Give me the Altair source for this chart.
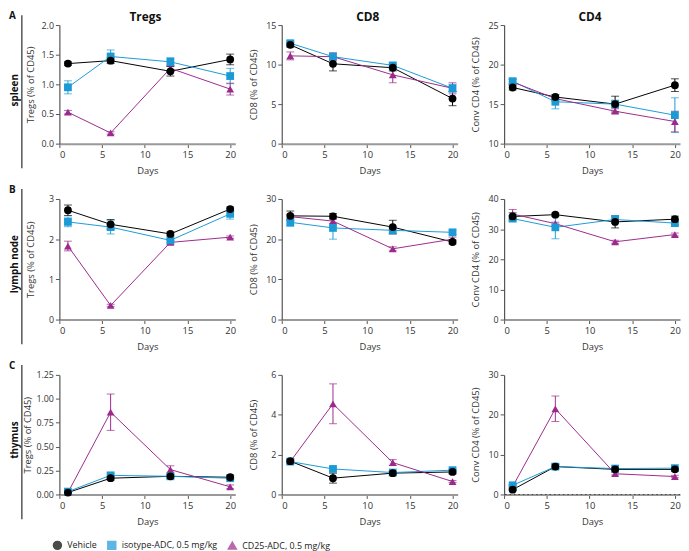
import altair as alt
import pandas as pd

FONT = "Open Sans"

days = [1, 6, 13, 20]
series = ["Vehicle", "isotype-ADC, 0.5 mg/kg", "CD25-ADC, 0.5 mg/kg"]
colors = ["#000000", "#1b9ad6", "#9c2a8c"]
shapes = ["circle", "square", "triangle-up"]

col_titles = ["Tregs", "CD8", "CD4"]
row_names = ["spleen", "lymph node", "thymus"]
row_letters = ["A", "B", "C"]
y_titles = ["Tregs (% of CD45)", "CD8 (% of CD45)", "Conv CD4 (% of CD45)"]
x_ticks = [0, 5, 10, 15, 20]

# each list: [Vehicle], [isotype-ADC], [CD25-ADC] over days 1, 6, 13, 20
spleen_tregs_mean = [[1.35, 1.40, 1.22, 1.42], [0.95, 1.47, 1.38, 1.14], [0.53, 0.18, 1.27, 0.92]]
spleen_tregs_err = [[0.03, 0.05, 0.08, 0.09], [0.11, 0.11, 0.07, 0.13], [0.03, 0.02, 0.05, 0.10]]
spleen_cd8_mean = [[12.5, 10.1, 9.6, 5.7], [12.7, 11.0, 9.9, 7.0], [11.1, 11.0, 8.7, 7.0]]
spleen_cd8_err = [[0.3, 0.9, 0.4, 0.9], [0.3, 0.3, 0.3, 0.5], [0.5, 0.5, 1.0, 0.7]]
spleen_cd4_mean = [[17.1, 15.9, 15.0, 17.4], [17.9, 15.3, 15.0, 13.6], [17.8, 15.7, 14.1, 12.8]]
spleen_cd4_err = [[0.3, 0.3, 1.0, 0.8], [0.3, 0.9, 0.5, 2.2], [0.3, 0.2, 0.3, 1.3]]

ln_tregs_mean = [[2.72, 2.37, 2.13, 2.75], [2.43, 2.30, 1.97, 2.63], [1.83, 0.35, 1.92, 2.05]]
ln_tregs_err = [[0.13, 0.12, 0.05, 0.05], [0.12, 0.17, 0.05, 0.13], [0.12, 0.03, 0.05, 0.03]]
ln_cd8_mean = [[25.8, 25.7, 23.0, 19.3], [24.2, 22.8, 22.2, 21.7], [25.6, 24.5, 17.6, 20.0]]
ln_cd8_err = [[1.2, 0.7, 1.7, 0.5], [1.0, 2.8, 0.8, 0.5], [0.6, 0.6, 0.5, 0.5]]
ln_cd4_mean = [[34.2, 34.8, 32.4, 33.3], [33.5, 30.6, 33.2, 32.0], [35.0, 31.8, 25.8, 28.2]]
ln_cd4_err = [[1.2, 0.5, 2.0, 1.0], [1.0, 3.8, 1.2, 0.5], [1.5, 0.5, 0.5, 0.5]]

thy_tregs_mean = [[0.02, 0.17, 0.19, 0.18], [0.03, 0.20, 0.19, 0.17], [0.02, 0.86, 0.26, 0.08]]
thy_tregs_err = [[0.01, 0.02, 0.02, 0.02], [0.01, 0.02, 0.01, 0.01], [0.01, 0.19, 0.04, 0.02]]
thy_cd8_mean = [[1.67, 0.82, 1.07, 1.13], [1.65, 1.28, 1.10, 1.22], [1.65, 4.55, 1.60, 0.65]]
thy_cd8_err = [[0.10, 0.25, 0.10, 0.10], [0.05, 0.10, 0.05, 0.05], [0.05, 1.00, 0.15, 0.05]]
thy_cd4_mean = [[1.2, 7.0, 6.3, 6.3], [2.3, 7.0, 6.5, 6.6], [2.0, 21.5, 5.2, 4.5]]
thy_cd4_err = [[0.2, 0.6, 0.3, 0.3], [0.2, 0.6, 0.3, 0.3], [0.2, 3.2, 0.3, 0.3]]

panels = [
    [(spleen_tregs_mean, spleen_tregs_err, [0, 2], [0, 0.5, 1, 1.5, 2], ".1f"),
     (spleen_cd8_mean, spleen_cd8_err, [0, 15], [0, 5, 10, 15], "d"),
     (spleen_cd4_mean, spleen_cd4_err, [10, 25], [10, 15, 20, 25], "d")],
    [(ln_tregs_mean, ln_tregs_err, [0, 3], [0, 1, 2, 3], "d"),
     (ln_cd8_mean, ln_cd8_err, [0, 30], [0, 10, 20, 30], "d"),
     (ln_cd4_mean, ln_cd4_err, [0, 40], [0, 10, 20, 30, 40], "d")],
    [(thy_tregs_mean, thy_tregs_err, [0, 1.25], [0, 0.25, 0.5, 0.75, 1, 1.25], ".2f"),
     (thy_cd8_mean, thy_cd8_err, [0, 6], [0, 2, 4, 6], "d"),
     (thy_cd4_mean, thy_cd4_err, [0, 30], [0, 10, 20, 30], "d")],
]

W = 178
row_heights = [120, 122, 121]

legend = alt.Legend(title=None, orient="none", legendX=-7, legendY=521,
                    direction="horizontal", labelFont=FONT, labelFontSize=9,
                    labelColor="#222", symbolSize=65, columnPadding=7,
                    labelOffset=5)
color_enc = alt.Color("series:N", scale=alt.Scale(domain=series, range=colors), legend=legend)
shape_enc = alt.Shape("series:N", scale=alt.Scale(domain=series, range=shapes), legend=legend)


def make_panel(r, c):
    mean, err, dom, ticks, fmt = panels[r][c]
    H = row_heights[r]
    recs = []
    for si, s in enumerate(series):
        for di, d in enumerate(days):
            m = mean[si][di]
            e = err[si][di]
            recs.append({"series": s, "day": d, "mean": m, "lo": m - e, "hi": m + e,
                         "order": [2, 1, 0][si]})
    df = pd.DataFrame(recs)
    xscale = alt.Scale(domain=[0, 20.6], nice=False, zero=False)
    xaxis = alt.Axis(values=x_ticks, title="Days", format="d", tickCount=5, labelOverlap=False)
    yscale = alt.Scale(domain=dom, nice=False, zero=False)
    title_x = -32 if fmt == ".2f" else -29
    yaxis = alt.Axis(values=ticks, format=fmt, title=y_titles[c], labelOverlap=False,
                     tickCount=len(ticks), titleX=title_x, titleBaseline="middle",
                     labelFontSize=9)

    def X():
        return alt.X("day:Q", scale=xscale, axis=xaxis)

    def Y(field):
        return alt.Y(field + ":Q", scale=yscale, axis=yaxis)

    base = alt.Chart(df)
    line = base.mark_line(strokeWidth=1).encode(x=X(), y=Y("mean"), color=color_enc)
    bars = base.mark_rule(strokeWidth=1).encode(x=X(), y=Y("lo"), y2="hi:Q", color=color_enc)
    cap_lo = base.mark_tick(orient="horizontal", size=8, thickness=1).encode(
        x=X(), y=Y("lo"), color=color_enc)
    cap_hi = base.mark_tick(orient="horizontal", size=8, thickness=1).encode(
        x=X(), y=Y("hi"), color=color_enc)
    pts = base.mark_point(filled=True, size=62, opacity=1).encode(
        x=X(), y=Y("mean"), color=color_enc, shape=shape_enc, order="order:Q")
    layers = [line, bars, cap_lo, cap_hi, pts]
    if r == 2 and c == 2:
        zero_df = pd.DataFrame({"v": [0]})
        layers.insert(0, alt.Chart(zero_df).mark_rule(color="#444", strokeDash=[1.5, 3], strokeWidth=1.2)
                      .encode(y=Y("v")))
    if r == 0:
        tdf = pd.DataFrame({"t": [col_titles[c]]})
        layers.append(alt.Chart(tdf).mark_text(align="center", baseline="middle", fontSize=12,
                                               fontWeight="bold", font=FONT, color="#111")
                      .encode(text="t:N", x=alt.value(W / 2 - 2), y=alt.value(-8)))
    if c == 0:
        lab = pd.DataFrame({"letter": [row_letters[r]], "name": [row_names[r]]})
        lbase = alt.Chart(lab)
        layers.append(lbase.mark_text(align="left", baseline="top", fontSize=10,
                                      fontWeight="bold", font=FONT, color="#111")
                      .encode(text="letter:N", x=alt.value(-51), y=alt.value(-14)))
        layers.append(lbase.mark_text(angle=270, align="center", baseline="middle", fontSize=10,
                                      fontWeight="bold", font=FONT, color="#111")
                      .encode(text="name:N", x=alt.value(-45), y=alt.value(66)))
        layers.append(lbase.mark_rule(color="#555", strokeWidth=1.5)
                      .encode(x=alt.value(-38), y=alt.value(-10), y2=alt.value(H + 25)))
    return alt.layer(*layers).properties(width=W, height=H)


charts = [make_panel(r, c) for r in range(3) for c in range(3)]

chart = alt.concat(*charts, columns=3, spacing={"row": 56, "column": 47}, bounds="flush").properties(
    padding={"left": 1, "top": 0, "right": 0, "bottom": 0}
).configure_view(stroke=None).configure_axis(
    labelFont=FONT, labelFontSize=9.5, labelColor="#333",
    titleFont=FONT, titleFontSize=9.5, titleFontWeight="normal", titleColor="#333",
    domainColor="#555", tickColor="#555", tickSize=4, grid=False, labelPadding=2,
    labelOverlap=False
).configure_axisX(
    domainColor="#999", domainWidth=2, titlePadding=7
).configure_axisY(
    domainWidth=1.2
)

chart.save("out.html", embed_options={"renderer": "svg", "actions": False})
